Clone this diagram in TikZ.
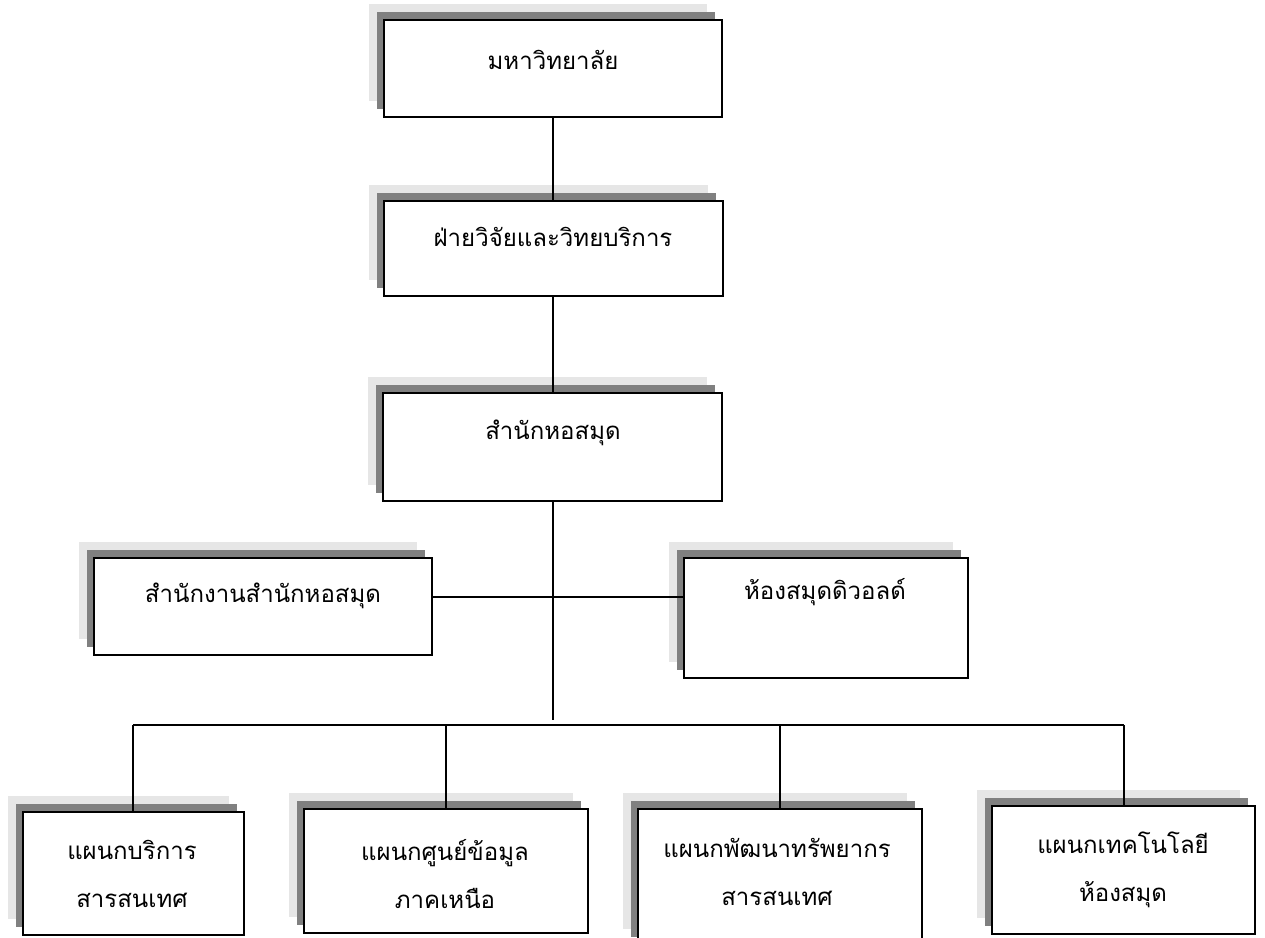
\documentclass[tikz,border=0pt]{standalone}
\usepackage{fontspec}
\newfontfamily\thaifont[Script=Thai]{Loma}
\usetikzlibrary{shadows,calc}
\definecolor{shlight}{HTML}{E6E6E6}
\definecolor{shdark}{HTML}{808080}
\begin{document}
\begin{tikzpicture}[x=1pt,y=-1pt,
  orgbox/.style={draw=black, fill=white, line width=1.6pt, rectangle, inner sep=0pt,
    copy shadow={shadow xshift=-15pt, shadow yshift=16pt, fill=shlight, draw=none},
    copy shadow={shadow xshift=-7.5pt, shadow yshift=8pt, fill=shdark, draw=none}},
  lbl/.style={font=\thaifont\fontsize{24}{48}\selectfont, align=center, inner sep=0pt},
  conn/.style={draw=black, line width=1.7pt}]
\useasboundingbox (0,0) rectangle (1265,937);
% boxes
\node[orgbox, minimum width=338pt, minimum height=97pt] (b1) at (553,68.5) {};
\node[orgbox, minimum width=339pt, minimum height=95pt] (b2) at (553.5,248.5) {};
\node[orgbox, minimum width=339pt, minimum height=108pt] (b3) at (552.5,447) {};
\node[orgbox, minimum width=338pt, minimum height=97pt] (bl) at (263,606.5) {};
\node[orgbox, minimum width=284pt, minimum height=120pt] (br) at (826,618) {};
\node[orgbox, minimum width=221pt, minimum height=123pt] (c1) at (133.5,873.5) {};
\node[orgbox, minimum width=284pt, minimum height=124pt] (c2) at (446,871) {};
\node[orgbox, minimum width=284pt, minimum height=136pt] (c3) at (780,877) {};
\node[orgbox, minimum width=263pt, minimum height=128pt] (c4) at (1123.5,870) {};
% labels
\node[lbl] (t1) at (553,60) {มหาวิทยาลัย};
\node[lbl] (t2) at (553,237) {ฝ่ายวิจัยและวิทยบริการ};
\node[lbl] (t3) at (553,433) {สำนักหอสมุด};
\node[lbl] (tl) at (263,596) {สำนักงานสำนักหอสมุด};
\node[lbl] (tr) at (825,592) {ห้องสมุดดิวอลด์};
\node[lbl] (u1) at (132,874) {แผนกบริการ\\สารสนเทศ};
\node[lbl] (u2) at (445,874) {แผนกศูนย์ข้อมูล\\ภาคเหนือ};
\node[lbl] (u3) at (777,872) {แผนกพัฒนาทรัพยากร\\สารสนเทศ};
\node[lbl] (u4) at (1123,870) {แผนกเทคโนโลยี\\ห้องสมุด};
% connectors
\coordinate (trunk) at (553,720);
\coordinate (bus) at (553,725);
\coordinate (side) at (553,597);
\coordinate (busL) at (133,725);
\coordinate (busR) at (1124,725);
\draw[conn] (b1.south -| side) -- (b2.north -| side);
\draw[conn] (b2.south -| side) -- (b3.north -| side);
\draw[conn] (b3.south -| side) -- (trunk);
\draw[conn] (bl.east |- side) -- (br.west |- side);
\draw[conn] (busL) -- (busR);
\draw[conn] (busL) -- (busL |- c1.north);
\draw[conn] (c2.north |- bus) -- (c2.north);
\draw[conn] (c3.north |- bus) -- (c3.north);
\draw[conn] (busR) -- (busR |- c4.north);
\end{tikzpicture}
\end{document}
